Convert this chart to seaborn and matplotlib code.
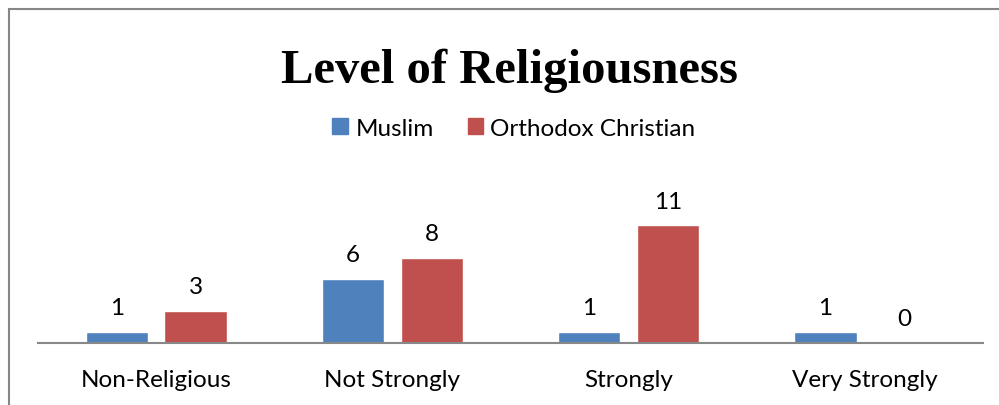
import pandas as pd
import seaborn as sns
import matplotlib.pyplot as plt
from matplotlib.patches import Rectangle, Patch

levels = ['Non-Religious', 'Not Strongly', 'Strongly', 'Very Strongly']
muslim = [1, 6, 1, 1]
orthodox = [3, 8, 11, 0]
groups = ['Muslim', 'Orthodox Christian']
colors = ['#4F81BD', '#C0504D']

df = pd.DataFrame({
    'Level': levels * 2,
    'Count': muslim + orthodox,
    'Religion': [groups[0]] * 4 + [groups[1]] * 4,
})

sns.set_theme(style='white')
plt.rcParams['font.family'] = ['Lato', 'DejaVu Sans']
plt.rcParams['text.color'] = 'black'
plt.rcParams['xtick.color'] = 'black'

fig = plt.figure(figsize=(9.99, 4.06), dpi=100)
ax = fig.add_axes([38 / 999, 62 / 406, 945 / 999, 171 / 406])

sns.barplot(
    data=df,
    x='Level',
    y='Count',
    hue='Religion',
    palette=colors,
    width=0.668,
    gap=0.21,
    saturation=1,
    legend=False,
    ax=ax
)

for c in ax.containers:
    ax.bar_label(c, padding=10, fontsize=17.5, color='black')

ax.set_xlim(-0.5, 3.5)
ax.set_ylim(0, 16)
ax.set_xlabel('')
ax.set_ylabel('')
ax.set_yticks([])
ax.tick_params(axis='x', length=0, pad=19, labelsize=17.5, labelcolor='black')
for s in ['left', 'right', 'top']:
    ax.spines[s].set_visible(False)
ax.spines['bottom'].set_color('#888888')
ax.spines['bottom'].set_linewidth(1.5)

# title and legend
fig.text(0.51, 1 - 83 / 406, 'Level of Religiousness', ha='center', va='baseline',
         fontsize=35, fontweight='bold', family='Liberation Serif', color='black')

handles = [Patch(color=colors[0]), Patch(color=colors[1])]
fig.legend(handles, groups, loc='center', bbox_to_anchor=(514 / 999, 1 - 129 / 406),
           ncol=2, frameon=False, fontsize=17.5, handlelength=0.64, handleheight=0.64,
           handletextpad=0.3, columnspacing=1.4, labelcolor='black')

# chart border (left and top visible)
fig.add_artist(Rectangle((9 / 999, -0.5), 2, 1.5 - 9.5 / 406, transform=fig.transFigure,
                         fill=False, edgecolor='#868686', linewidth=1.5, clip_on=False))

fig.savefig('out.png', dpi=100)
